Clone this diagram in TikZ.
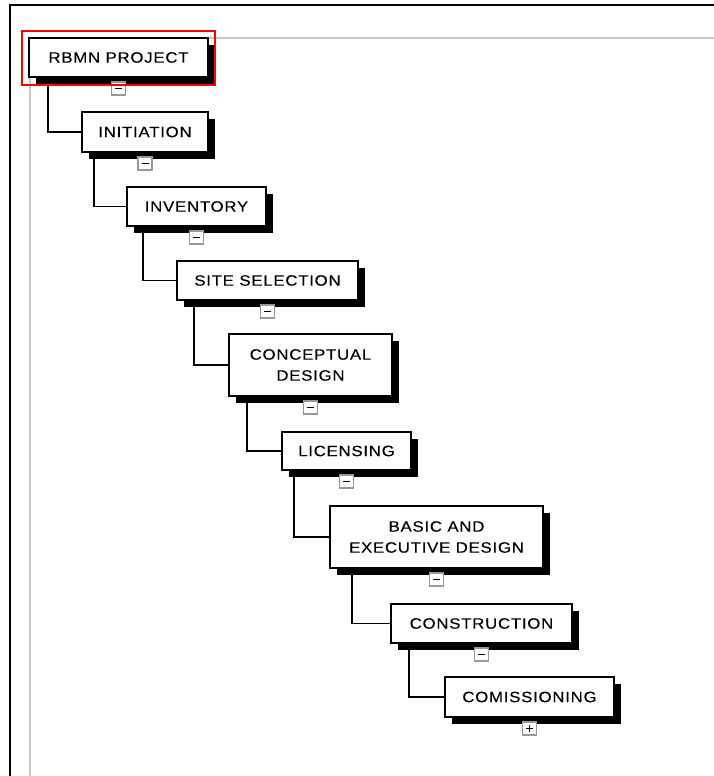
\documentclass[tikz,border=0pt]{standalone}
\usepackage{fontspec}
\setmainfont{Liberation Sans}[FakeStretch=1.12, LetterSpace=5, FakeBold=0.2]
\usetikzlibrary{shadows,calc}
\begin{document}
\begin{tikzpicture}[x=1pt,y=-1pt,
  wbs/.style={draw=black, line width=1.4pt, fill=white, inner sep=0pt, outer sep=0pt,
    align=center, font=\fontsize{15}{21}\selectfont,
    drop shadow={shadow xshift=7pt, shadow yshift=-7pt, fill=black, opacity=1}},
  tog/.style={draw=black!40, line width=1.1pt, fill=white, minimum width=14pt,
    minimum height=13pt, inner sep=0pt, outer sep=0pt},
  minus/.style={tog, path picture={\draw[black,line width=1.5pt]
      ([xshift=-3.5pt]path picture bounding box.center) -- ([xshift=3.5pt]path picture bounding box.center);}},
  plus/.style={tog, path picture={\draw[black,line width=1.5pt]
      ([xshift=-3.5pt]path picture bounding box.center) -- ([xshift=3.5pt]path picture bounding box.center)
      ([yshift=-3.5pt]path picture bounding box.center) -- ([yshift=3.5pt]path picture bounding box.center);}},
  conn/.style={draw=black, line width=1.4pt},
  frame/.style={draw=black, line width=2pt},
  grid/.style={draw=black!22, line width=2pt}
]
\useasboundingbox (0,0) rectangle (714,776);
% frame
\draw[frame] (714,5) -- (10,5) -- (10,776);
\draw[grid] (30,776) -- (30,38) -- (714,38);

% nodes
\node[wbs, minimum width=179pt, minimum height=39pt] (n1) at (118.5,57.5) {RBMN PROJECT};
\node[wbs, minimum width=126pt, minimum height=40pt] (n2) at (145,132) {INITIATION};
\node[wbs, minimum width=139pt, minimum height=39pt] (n3) at (196.5,206.5) {INVENTORY};
\node[wbs, minimum width=181pt, minimum height=39pt] (n4) at (267.5,280.5) {SITE SELECTION};
\node[wbs, minimum width=163pt, minimum height=62pt] (n5) at (310.5,365) {CONCEPTUAL\\DESIGN};
\node[wbs, minimum width=129pt, minimum height=38pt] (n6) at (346.5,451) {LICENSING};
\node[wbs, minimum width=213pt, minimum height=62pt] (n7) at (436.5,537) {BASIC AND\\EXECUTIVE DESIGN};
\node[wbs, minimum width=181pt, minimum height=39pt] (n8) at (481.5,623.5) {CONSTRUCTION};
\node[wbs, minimum width=169pt, minimum height=40pt] (n9) at (529.5,697) {COMISSIONING};

% connectors
\draw[conn] ([xshift=19pt,yshift=-7pt]n1.south west) |- (n2.west);
\draw[conn] ([xshift=12pt,yshift=-7pt]n2.south west) |- (n3.west);
\draw[conn] ([xshift=16pt,yshift=-7pt]n3.south west) |- (n4.west);
\draw[conn] ([xshift=17pt,yshift=-7pt]n4.south west) |- (n5.west);
\draw[conn] ([xshift=18pt,yshift=-7pt]n5.south west) |- (n6.west);
\draw[conn] ([xshift=12pt,yshift=-7pt]n6.south west) |- (n7.west);
\draw[conn] ([xshift=22pt,yshift=-7pt]n7.south west) |- (n8.west);
\draw[conn] ([xshift=18pt,yshift=-7pt]n8.south west) |- (n9.west);

% toggles
\node[minus] (t1) at ($(n1.south)+(0,11.5)$) {};
\node[minus] (t2) at ($(n2.south)+(0,11.5)$) {};
\node[minus] (t3) at ($(n3.south)+(0,11.5)$) {};
\node[minus] (t4) at ($(n4.south)+(0,11.5)$) {};
\node[minus] (t5) at ($(n5.south)+(0,11.5)$) {};
\node[minus] (t6) at ($(n6.south)+(0,11.5)$) {};
\node[minus] (t7) at ($(n7.south)+(0,11.5)$) {};
\node[minus] (t8) at ($(n8.south)+(0,11.5)$) {};
\node[plus] (t9) at ($(n9.south)+(0,11.5)$) {};

% selection
\draw[red, line width=1.5pt] (22,31) rectangle (215,85);
\end{tikzpicture}
\end{document}
